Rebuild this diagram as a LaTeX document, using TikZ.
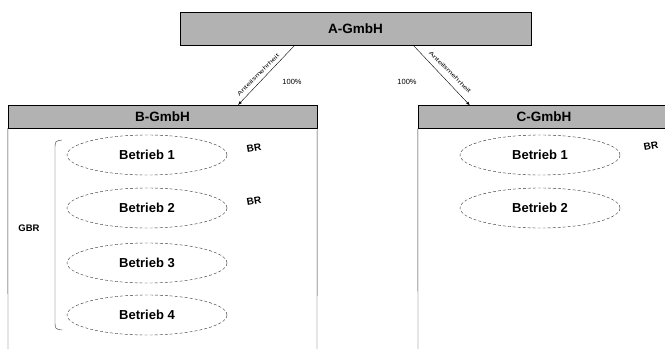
\documentclass[tikz,border=0pt]{standalone}
\usepackage{fontspec}
\setmainfont{Liberation Sans}
\usetikzlibrary{calc,arrows,shapes.geometric}

\begin{document}
\begin{tikzpicture}[x=1pt,y=-1pt,
                    kopf/.style={draw,fill=gray!60,inner sep=0pt,font=\fontsize{13.5}{15}\selectfont\bfseries},
                    betrieb/.style={ellipse,draw=black!80,densely dashed,thin,minimum width=160pt,minimum height=40pt,inner sep=0pt,font=\fontsize{13}{15}\selectfont\bfseries},
                    rat/.style={font=\fontsize{10}{12}\selectfont\bfseries,rotate=10},
                    anteil/.style={inner sep=0pt,font=\fontsize{5.5}{6}\selectfont}]
                 \clip (0,0) rectangle (665,349);
                 % Muttergesellschaft
                 \node[kopf,minimum width=351pt,minimum height=33pt](a)at(355.5,28.5){A-GmbH};
                 % Toechter
                 \node[kopf,minimum width=309pt,minimum height=23pt](b)at(162.5,116.5){B-GmbH};
                 \node[kopf,minimum width=252pt,minimum height=23pt](c)at(544,117){C-GmbH};
                 \draw[black!80](b.south west)--(8,349);
                 \draw[black!80](b.south east)--(317,349);
                 \draw[black!80](c.south west)--(418,349);
                 % Beteiligungen
                 \coordinate(al)at(295,45);
                 \coordinate(ar)at(413,45);
                 \coordinate(bl)at(238,105);
                 \coordinate(cr)at(470,105.5);
                 \draw[-latex,black](al)--(bl);
                 \draw[-latex,black](ar)--(cr);
                 \node[anteil,rotate=45](tl)at(258,75){\scalebox{1.5}[1]{Anteilsmehrheit}};
                 \node[anteil,rotate=-45](tr)at(450,72){\scalebox{1.5}[1]{Anteilsmehrheit}};
                 \node[font=\fontsize{7.5}{9}\selectfont](pl)at(292,82){100\%};
                 \node[font=\fontsize{7.5}{9}\selectfont](pr)at(407,82){100\%};
                 % Betriebe B-GmbH
                 \node[betrieb](b1)at(147,155){Betrieb 1};
                 \node[betrieb](b2)at(147,208){Betrieb 2};
                 \node[betrieb](b3)at(147,263){Betrieb 3};
                 \node[betrieb](b4)at(147,315){Betrieb 4};
                 \node[rat](br1)at(254,148){BR};
                 \node[rat](br2)at(254,201){BR};
                 \draw[black!80](62,140) .. controls (55,141) .. (55,150) -- (55,320) .. controls (55,329) .. (62,330);
                 \node[rat,rotate=-10,font=\fontsize{9.5}{11}\selectfont\bfseries](gbr)at(29,228){GBR};
                 % Betriebe C-GmbH
                 \node[betrieb](c1)at(540,155){Betrieb 1};
                 \node[betrieb](c2)at(540,208){Betrieb 2};
                 \node[rat](br3)at(651,146){BR};
               \end{tikzpicture}
\end{document}
